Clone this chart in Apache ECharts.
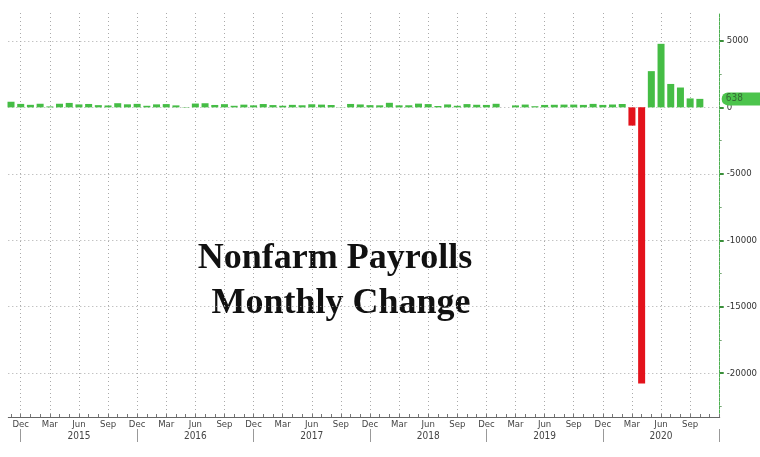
<!DOCTYPE html>
<html>
<head>
<meta charset="utf-8">
<script src="https://cdn.jsdelivr.net/npm/echarts@6/dist/echarts.min.js"></script>
<style>html,body{margin:0;padding:0;background:#fff}#c{width:760px;height:457px}</style>
</head>
<body>
<div id="c"></div>
<script>
// Month index 0 = Nov 2014
const monthNames = ['Nov','Dec','Jan','Feb','Mar','Apr','May','Jun','Jul','Aug','Sep','Oct'];
const yearLabels = ['2015','2016','2017','2018','2019','2020'];
// Nonfarm payrolls monthly change (thousands), Nov 2014 .. Oct 2020
const payrolls = [
  423, 260,
  190, 271, 70, 272, 334, 222, 255, 167, 142, 312, 228, 262,
  118, 225, 246, 148, 26, 286, 309, 180, 240, 118, 204, 151,
  250, 172, 121, 187, 156, 232, 206, 177, 16, 256, 219, 166,
  152, 343, 152, 157, 280, 245, 103, 220, 119, 245, 195, 182,
  269, 1, 147, 210, 85, 182, 194, 207, 208, 185, 261, 184,
  214, 251, -1373, -20787, 2725, 4781, 1761, 1493, 672, 638
];
const yTicks = [-20000, -15000, -10000, -5000, 0, 5000];
const lastValue = 638;

const totalMonths = 74; // Nov 2014 .. Dec 2020
const allMonths = [], quarterTicks = [], yearSeps = [], yearMids = [];
for (let i = 0; i < totalMonths; i++) {
  allMonths.push(i);
  if (i % 3 === 1 && i <= 70) quarterTicks.push(i);
  if (i % 12 === 1) yearSeps.push(i);
  if (i % 12 === 7) yearMids.push(i);
}
const minorY = [-22500, -17500, -12500, -7500, -2500, 2500];
const font = '"Liberation Sans Narrow", "Arial Narrow", "DejaVu Sans Condensed", sans-serif';

const chart = echarts.init(document.getElementById('c'), null, {renderer: 'canvas'});
const xMin = -0.28, xMax = 73.05;
chart.setOption({
  animation: false,
  backgroundColor: '#fff',
  grid: {left: 8.3, right: 39.3, top: 13, bottom: 40},
  xAxis: [
    {
      type: 'value', position: 'bottom', min: xMin, max: xMax,
      axisLine: {show: true, onZero: false, lineStyle: {color: '#666', width: 1}},
      axisTick: {show: false, customValues: quarterTicks},
      axisLabel: {customValues: quarterTicks, margin: 3, color: '#444', fontSize: 9.5, fontFamily: font,
        formatter: v => monthNames[Math.round(v) % 12]},
      splitLine: {show: true, lineStyle: {color: '#aaa', type: [1, 3], width: 1}}
    },
    {
      type: 'value', position: 'bottom', offset: 0, min: xMin, max: xMax,
      axisLine: {show: false, onZero: false},
      axisTick: {show: true, inside: true, length: 3, customValues: allMonths, lineStyle: {color: '#777'}},
      axisLabel: {show: false},
      splitLine: {show: false}
    },
    {
      type: 'value', position: 'bottom', offset: 12, min: xMin, max: xMax,
      axisLine: {show: false, onZero: false},
      axisTick: {show: true, length: 13, customValues: yearSeps, lineStyle: {color: '#999'}},
      axisLabel: {customValues: yearMids, margin: 2, color: '#444', fontSize: 10, fontFamily: font,
        formatter: v => yearLabels[Math.round((v - 7) / 12)]},
      splitLine: {show: false}
    }
  ],
  yAxis: [
    {
      type: 'value', position: 'right', min: -23300, max: 7100,
      axisLine: {show: true, onZero: false, lineStyle: {color: '#4caf50', width: 1, type: [3, 1]}},
      axisTick: {show: true, length: 4, customValues: yTicks, lineStyle: {color: '#3a8f3a', width: 2}},
      axisLabel: {customValues: yTicks, margin: 7, color: '#333', fontSize: 9.5, fontFamily: font,
        formatter: v => String(v)},
      splitLine: {show: true, lineStyle: {color: '#aaa', type: [1, 3], width: 1}}
    },
    {
      type: 'value', position: 'right', min: -23300, max: 7100,
      axisLine: {show: false, onZero: false},
      axisTick: {show: true, length: 2, customValues: minorY, lineStyle: {color: '#7a7'}},
      axisLabel: {show: false},
      splitLine: {show: false}
    }
  ],
  series: [{
    type: 'bar',
    xAxisIndex: 0, yAxisIndex: 0,
    barWidth: 7,
    clip: false,
    data: payrolls.map((v, i) => ({
      value: [i, v],
      itemStyle: {color: v < 0 ? '#e3121b' : '#45bd45'}
    })),
    markLine: {
      silent: true,
      symbol: 'none',
      lineStyle: {color: 'rgba(255,255,255,0)', width: 0},
      data: [{yAxis: lastValue}],
      label: {
        show: true, position: 'end', distance: 2,
        formatter: String(lastValue),
        color: '#356b35', fontSize: 10, fontFamily: font,
        backgroundColor: '#4cc44c', padding: [2, 18, 1, 4], borderRadius: [6, 0, 0, 6]
      }
    }
  }],
  graphic: [
    {type: 'text', x: 335, y: 259, silent: true,
      style: {text: 'Nonfarm Payrolls', fill: '#111', textAlign: 'center', textVerticalAlign: 'middle',
        font: 'bold 36px "Liberation Serif", "DejaVu Serif", serif'}},
    {type: 'text', x: 341, y: 304, silent: true,
      style: {text: 'Monthly Change', fill: '#111', textAlign: 'center', textVerticalAlign: 'middle',
        font: 'bold 36px "Liberation Serif", "DejaVu Serif", serif'}}
  ]
});
</script>
</body>
</html>
